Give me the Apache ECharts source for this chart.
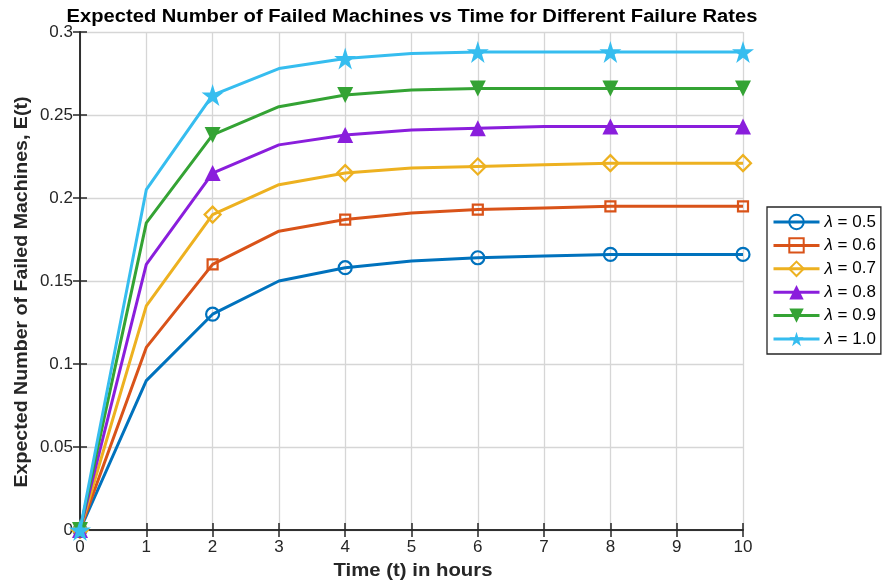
<!DOCTYPE html>
<html>
<head>
<meta charset="utf-8">
<script src="https://cdn.jsdelivr.net/npm/echarts@6/dist/echarts.min.js"></script>
<style>
  html, body { margin: 0; padding: 0; background: #fff; }
  #chart { width: 885px; height: 585px; }
</style>
</head>
<body>
<div id="chart"></div>
<script>
// Time axis (hours) and expected failed machines per failure rate
const times = [0, 1, 2, 3, 4, 5, 6, 7, 8, 9, 10];
const rateLabels = ['0.5', '0.6', '0.7', '0.8', '0.9', '1.0'];
const eLambda05 = [0, 0.090, 0.130, 0.150, 0.158, 0.162, 0.164, 0.165, 0.166, 0.166, 0.166];
const eLambda06 = [0, 0.110, 0.160, 0.180, 0.187, 0.191, 0.193, 0.194, 0.195, 0.195, 0.195];
const eLambda07 = [0, 0.135, 0.190, 0.208, 0.215, 0.218, 0.219, 0.220, 0.221, 0.221, 0.221];
const eLambda08 = [0, 0.160, 0.215, 0.232, 0.238, 0.241, 0.242, 0.243, 0.243, 0.243, 0.243];
const eLambda09 = [0, 0.185, 0.238, 0.255, 0.262, 0.265, 0.266, 0.266, 0.266, 0.266, 0.266];
const eLambda10 = [0, 0.205, 0.262, 0.278, 0.284, 0.287, 0.288, 0.288, 0.288, 0.288, 0.288];
const xTicks = [0, 1, 2, 3, 4, 5, 6, 7, 8, 9, 10];
const yTicks = [0, 0.05, 0.1, 0.15, 0.2, 0.25, 0.3];

const FONT = 'Liberation Sans, Arial, Helvetica, sans-serif';
const starPath = 'path://M50,0 L61.2,34.5 L97.6,34.5 L68.2,55.9 L79.4,90.5 L50,69.1 L20.6,90.5 L31.8,55.9 L2.4,34.5 L38.8,34.5 Z';

// Marker style per series: hollow circle, square, diamond; filled triangles and star
const styles = [
  { color: '#0072BD', symbol: 'circle', size: 13, rotate: 0, hollow: true },
  { color: '#D95319', symbol: 'rect', size: 10, rotate: 0, hollow: true },
  { color: '#EDB120', symbol: 'diamond', size: 16, rotate: 0, hollow: true },
  { color: '#8A1EDC', symbol: 'triangle', size: 16, rotate: 0, hollow: false },
  { color: '#34A334', symbol: 'triangle', size: 16, rotate: 180, hollow: false },
  { color: '#36BDEF', symbol: starPath, size: 22, rotate: 0, hollow: false }
];
const seriesValues = [eLambda05, eLambda06, eLambda07, eLambda08, eLambda09, eLambda10];

const series = seriesValues.map((vals, i) => {
  const st = styles[i];
  return {
    name: 'λ = ' + rateLabels[i],
    type: 'line',
    data: vals.map((v, k) => (times[k] % 2 === 0)
      ? { value: [times[k], v] }
      : { value: [times[k], v], symbol: 'none' }),
    symbol: st.symbol,
    symbolSize: st.size,
    symbolRotate: st.rotate,
    showAllSymbol: true,
    lineStyle: { width: 3, color: st.color },
    itemStyle: st.hollow
      ? { color: 'rgba(255,255,255,0)', borderColor: st.color, borderWidth: 2.2 }
      : { color: st.color, borderColor: st.color, borderWidth: 0 },
    emphasis: { disabled: true },
    animation: false,
    z: 2 + i
  };
});

const axisText = { color: '#262626', fontSize: 17, fontFamily: FONT };
const axisLineStyle = { lineStyle: { color: '#262626', width: 1.5 } };
const tickStyle = { show: true, inside: true, length: 7, lineStyle: { color: '#262626', width: 1.5 } };
const gridLines = { show: true, lineStyle: { color: '#d6d6d6', width: 1.3 } };
const nameStyle = { fontSize: 18, fontWeight: 'bold', fill: '#262626', fontFamily: FONT, align: 'center', verticalAlign: 'middle' };

const chart = echarts.init(document.getElementById('chart'), null, { renderer: 'canvas' });
chart.setOption({
  backgroundColor: '#ffffff',
  animation: false,
  grid: { left: 80, right: 142, top: 32, bottom: 55, containLabel: false },
  graphic: [{
    type: 'text', x: 412, y: 17, scaleX: 1.12,
    style: Object.assign({}, nameStyle, { text: 'Expected Number of Failed Machines vs Time for Different Failure Rates', fill: '#000' })
  }, {
    type: 'text', x: 413, y: 571, scaleX: 1.13,
    style: Object.assign({}, nameStyle, { text: 'Time (t) in hours' })
  }, {
    type: 'text', x: 22, y: 292, rotation: Math.PI / 2, scaleX: 1.12,
    style: Object.assign({}, nameStyle, { text: 'Expected Number of Failed Machines, E(t)', fontSize: 17.5 })
  }],
  xAxis: [{
    type: 'value', min: xTicks[0], max: xTicks[xTicks.length - 1], interval: 1,
    axisLine: axisLineStyle,
    axisTick: tickStyle,
    axisLabel: Object.assign({ margin: 9 }, axisText),
    splitLine: gridLines
  }, {
    type: 'value', position: 'top', min: xTicks[0], max: xTicks[xTicks.length - 1], interval: 1,
    axisLine: axisLineStyle,
    axisTick: tickStyle,
    axisLabel: { show: false }, splitLine: { show: false }
  }],
  yAxis: [{
    type: 'value', min: yTicks[0], max: yTicks[yTicks.length - 1], interval: 0.05,
    axisLine: axisLineStyle,
    axisTick: tickStyle,
    axisLabel: Object.assign({ margin: 7, formatter: v => String(+v.toFixed(2)) }, axisText),
    splitLine: gridLines
  }, {
    type: 'value', position: 'right', min: yTicks[0], max: yTicks[yTicks.length - 1], interval: 0.05,
    axisLine: axisLineStyle,
    axisTick: tickStyle,
    axisLabel: { show: false }, splitLine: { show: false }
  }],
  legend: {
    orient: 'vertical',
    left: 767, top: 207,
    itemWidth: 46, itemHeight: 18, itemGap: 5.4,
    padding: [6, 5, 6, 5],
    borderColor: '#262626', borderWidth: 1.3,
    backgroundColor: '#fff',
    lineStyle: { width: 3 },
    textStyle: {
      fontSize: 17, lineHeight: 18, color: '#000', fontFamily: FONT,
      rich: { i: { fontStyle: 'italic', fontSize: 17, lineHeight: 18, fontFamily: FONT } }
    },
    formatter: name => '{i|λ}' + name.slice(1),
    data: series.map(s => s.name)
  },
  series: series
});
</script>
</body>
</html>
